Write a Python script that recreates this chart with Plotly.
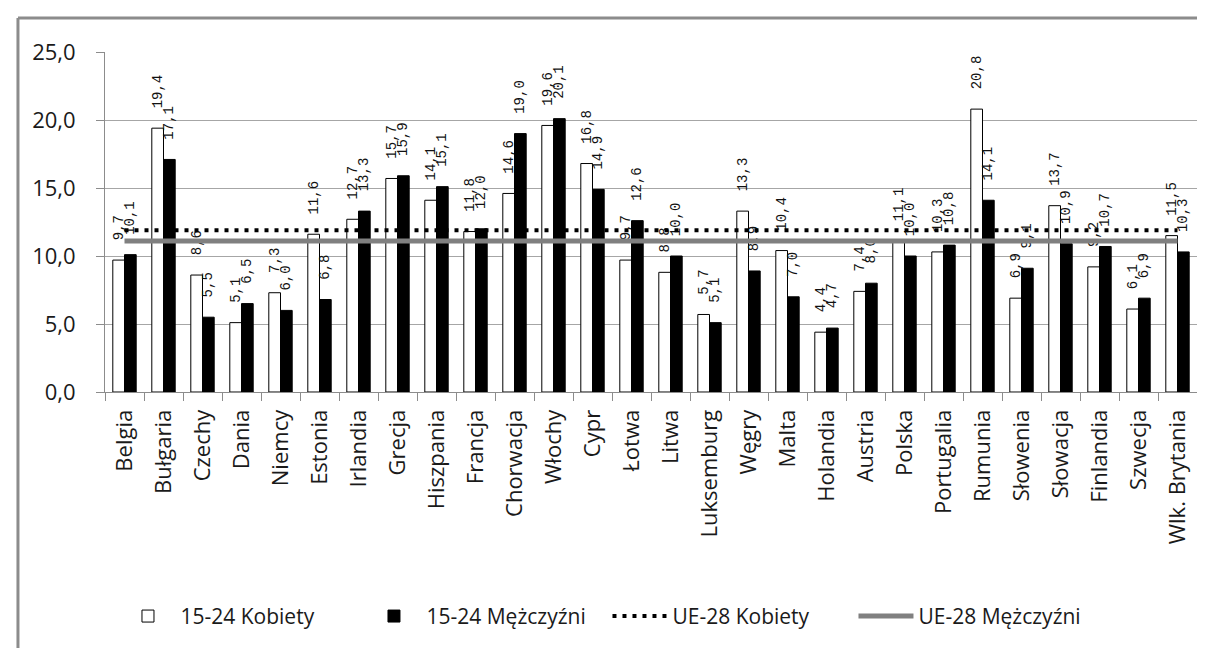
import plotly.graph_objects as go

countries = ["Belgia", "Bułgaria", "Czechy", "Dania", "Niemcy", "Estonia", "Irlandia",
             "Grecja", "Hiszpania", "Francja", "Chorwacja", "Włochy", "Cypr", "Łotwa",
             "Litwa", "Luksemburg", "Węgry", "Malta", "Holandia", "Austria", "Polska",
             "Portugalia", "Rumunia", "Słowenia", "Słowacja", "Finlandia", "Szwecja",
             "Wlk. Brytania"]
kobiety = [9.7, 19.4, 8.6, 5.1, 7.3, 11.6, 12.7, 15.7, 14.1, 11.8, 14.6, 19.6, 16.8, 9.7,
           8.8, 5.7, 13.3, 10.4, 4.4, 7.4, 11.1, 10.3, 20.8, 6.9, 13.7, 9.2, 6.1, 11.5]
mezczyzni = [10.1, 17.1, 5.5, 6.5, 6.0, 6.8, 13.3, 15.9, 15.1, 12.0, 19.0, 20.1, 14.9, 12.6,
             10.0, 5.1, 8.9, 7.0, 4.7, 8.0, 10.0, 10.8, 14.1, 9.1, 10.9, 10.7, 6.9, 10.3]
ue28_kobiety = 11.9
ue28_mezczyzni = 11.1

label_font = dict(family="Liberation Mono", size=14, color="#111111")

fig = go.Figure()
fig.add_trace(go.Bar(
    x=countries, y=kobiety, name="15-24 Kobiety",
    marker=dict(color="#ffffff", line=dict(color="#000000", width=1)),
    texttemplate="\u00a0\u00a0%{y:.1f}", textposition="outside", textangle=-90,
    textfont=label_font, constraintext="none", cliponaxis=False,
))
fig.add_trace(go.Bar(
    x=countries, y=mezczyzni, name="15-24 Mężczyźni",
    marker=dict(color="#000000", line=dict(color="#000000", width=1)),
    texttemplate="\u00a0\u00a0%{y:.1f}", textposition="outside", textangle=-90,
    textfont=label_font, constraintext="none", cliponaxis=False,
))
fig.add_trace(go.Scatter(
    x=countries, y=[ue28_kobiety] * len(countries), name="UE-28 Kobiety",
    mode="lines", line=dict(color="#000000", width=4, dash="4px,6px"),
))
fig.add_trace(go.Scatter(
    x=countries, y=[ue28_mezczyzni] * len(countries), name="UE-28 Mężczyźni",
    mode="lines", line=dict(color="#808080", width=5),
))

border = "#8c8c8c"
fig.update_layout(
    width=1205, height=648,
    margin=dict(l=97, r=16, t=44, b=264),
    paper_bgcolor="#ffffff", plot_bgcolor="#ffffff",
    separators=", ",
    barmode="group", bargap=0.4, bargroupgap=0,
    font=dict(family="Open Sans", size=22, color="#1a1a1a"),
    showlegend=True,
    legend=dict(orientation="h", x=0.0096, xanchor="left", y=-0.66, yanchor="middle",
                font=dict(family="Open Sans", size=21, color="#1a1a1a"),
                itemwidth=55, entrywidth=176, tracegroupgap=0),
    xaxis=dict(
        type="category", tickangle=-90, tickson="boundaries",
        ticks="outside", ticklen=8, tickcolor="#8c8c8c",
        showline=True, linecolor="#8c8c8c", linewidth=1,
        showgrid=False, tickfont=dict(family="Open Sans", size=22, color="#1a1a1a"),
        ticklabelstandoff=8,
    ),
    yaxis=dict(
        range=[0, 25], dtick=5, tickformat=".1f",
        ticks="outside", ticklen=8, tickcolor="#8c8c8c",
        showline=True, linecolor="#8c8c8c", linewidth=1,
        showgrid=True, gridcolor="#a6a6a6", gridwidth=1,
        zeroline=False, ticklabelstandoff=16,
        tickfont=dict(family="Open Sans", size=22, color="#1a1a1a"),
    ),
    shapes=[
        dict(type="line", xref="paper", yref="paper", x0=-0.0797, x1=1.03, y0=1.1, y1=1.1,
             line=dict(color=border, width=3)),
        dict(type="line", xref="paper", yref="paper", x0=-0.0797, x1=-0.0797, y0=1.1, y1=-0.8,
             line=dict(color=border, width=3)),
    ],
)

fig.write_html("out.html")
